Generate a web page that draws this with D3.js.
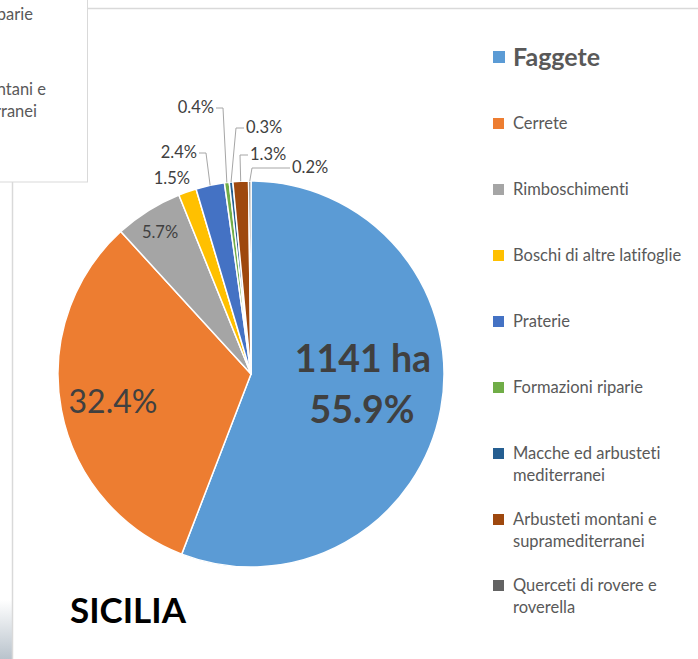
<!DOCTYPE html>
<html>
<head>
<meta charset="utf-8">
<script src="https://cdn.jsdelivr.net/npm/d3@7"></script>
<style>
  html, body { margin: 0; padding: 0; background: #fff; }
  svg { display: block; font-family: Lato, "Open Sans", sans-serif; font-variant-ligatures: none; }
</style>
</head>
<body>
<svg id="chart" width="698" height="659"></svg>
<script>
// categories, clockwise from 12 o'clock
const categories = [
  "Faggete",
  "Cerrete",
  "Rimboschimenti",
  "Boschi di altre latifoglie",
  "Praterie",
  "Formazioni riparie",
  "Macche ed arbusteti mediterranei",
  "Arbusteti montani e supramediterranei",
  "Querceti di rovere e roverella"
];
// share of surface, %
const percents = [55.9, 32.4, 5.7, 1.5, 2.4, 0.4, 0.3, 1.3, 0.2];
const faggeteHa = 1141;
const colors = ["#5B9BD5", "#ED7D31", "#A5A5A5", "#FFC000", "#4472C4",
                "#70AD47", "#255E91", "#9E480E", "#636363"];
// legend lines (wrapped the same way as the original)
const legendLines = [
  ["Faggete"], ["Cerrete"], ["Rimboschimenti"], ["Boschi di altre latifoglie"],
  ["Praterie"], ["Formazioni riparie"], ["Macche ed arbusteti", "mediterranei"],
  ["Arbusteti montani e", "supramediterranei"], ["Querceti di rovere e", "roverella"]
];
// leftovers of the neighbouring chart's legend, cut off at the left edge
const ghostLegend = ["Formazioni riparie", "Arbusteti montani e", "supramediterranei"];

const svg = d3.select("#chart");
const W = 698, H = 659;

// frame of this chart + the overlapping panel of the other one
const grad = svg.append("defs").append("linearGradient")
  .attr("id", "bgfade").attr("x1", 0).attr("y1", 0).attr("x2", 0).attr("y2", 1);
grad.append("stop").attr("offset", "0%").attr("stop-color", "#ffffff");
grad.append("stop").attr("offset", "100%").attr("stop-color", "#b9c3cc");
svg.append("rect").attr("x", 0).attr("y", 600).attr("width", 12).attr("height", 59)
  .attr("fill", "url(#bgfade)");
svg.append("line").attr("x1", 87).attr("x2", W).attr("y1", 8.5).attr("y2", 8.5)
  .attr("stroke", "#d9d9d9").attr("stroke-width", 1.5);
svg.append("line").attr("x1", 12.5).attr("x2", 12.5).attr("y1", 182).attr("y2", H)
  .attr("stroke", "#d9d9d9").attr("stroke-width", 1.5);
svg.append("rect").attr("x", -2).attr("y", -2).attr("width", 89.5).attr("height", 184)
  .attr("fill", "#fff").attr("stroke", "#d9d9d9").attr("stroke-width", 1);
svg.append("g").selectAll("text").data(ghostLegend).join("text")
  .attr("x", (d, i) => i === 0 ? 33 : (i === 1 ? 46 : 37))
  .attr("y", (d, i) => i === 0 ? 20 : (i === 1 ? 95 : 117))
  .attr("text-anchor", "end")
  .attr("font-size", 16.5).attr("fill", "#595959")
  .text(d => d);

// pie
const cx = 251, cy = 374, r = 193;
const g = svg.append("g").attr("transform", `translate(${cx},${cy})`);
const pie = d3.pie().sort(null).value(d => d);
const arcs = pie(percents);
const arc = d3.arc().innerRadius(0).outerRadius(r);
const edge = d3.arc().innerRadius(r).outerRadius(r);

g.selectAll("path").data(arcs).join("path")
  .attr("d", arc)
  .attr("fill", (d, i) => colors[i])
  .attr("stroke", "#fff")
  .attr("stroke-width", 1.5)
  .attr("stroke-linejoin", "round");

const fmt = v => v.toFixed(1) + "%";

// big labels inside the two main slices
g.append("text").attr("x", 112).attr("y", -2)
  .attr("text-anchor", "middle").attr("font-size", 37.5).attr("font-weight", "bold")
  .attr("fill", "#404040").text(faggeteHa + " ha");
g.append("text").attr("x", 111).attr("y", 49)
  .attr("text-anchor", "middle").attr("font-size", 37.5).attr("font-weight", "bold")
  .attr("fill", "#404040").text(fmt(percents[0]));
g.append("text").attr("x", -138).attr("y", 39)
  .attr("text-anchor", "middle").attr("font-size", 32)
  .attr("fill", "#404040").text(fmt(percents[1]));
g.append("text").attr("x", -91).attr("y", -136)
  .attr("text-anchor", "middle").attr("font-size", 16.5)
  .attr("fill", "#404040").text(fmt(percents[2]));

// outside labels of the thin slices: text offset from centre, side, horizontal stub
const outside = [
  { i: 3, dx: -61, dy: -190, anchor: "end", stub: null },
  { i: 4, dx: -54, dy: -216, anchor: "end", stub: 7 },
  { i: 5, dx: -37, dy: -261, anchor: "end", stub: 7 },
  { i: 6, dx: -5, dy: -241, anchor: "start", stub: 8 },
  { i: 7, dx: -1, dy: -214, anchor: "start", stub: 8 },
  { i: 8, dx: 41, dy: -201, anchor: "start", stub: 38 }
];
outside.forEach(o => {
  const a = arcs[o.i];
  const [ax, ay] = edge.centroid(a);
  g.append("text").attr("x", o.dx).attr("y", o.dy)
    .attr("text-anchor", o.anchor).attr("font-size", 16.5)
    .attr("fill", "#404040").text(fmt(percents[o.i]));
  if (o.stub !== null) {
    const sx = o.anchor === "end" ? o.dx + 2 : o.dx - 2;
    const ly = o.dy - 5;
    const ex = o.anchor === "end" ? sx + o.stub : sx - o.stub;
    g.append("polyline")
      .attr("points", [[sx, ly], [ex, ly], [ax, ay]].map(p => p.join(",")).join(" "))
      .attr("fill", "none").attr("stroke", "#a6a6a6").attr("stroke-width", 1);
  }
});

// legend
const legY = d3.scalePoint().domain(d3.range(categories.length)).range([57, 585]);
const leg = svg.append("g").selectAll("g").data(categories).join("g")
  .attr("transform", (d, i) => `translate(493,${legY(i)})`);
leg.append("rect")
  .attr("x", 0).attr("y", (d, i) => i === 0 ? -6 : -5)
  .attr("width", (d, i) => i === 0 ? 12 : 11)
  .attr("height", (d, i) => i === 0 ? 12 : 11)
  .attr("fill", (d, i) => colors[i]);
leg.each(function (d, i) {
  const t = d3.select(this).append("text")
    .attr("x", 20).attr("y", i === 0 ? 9 : 6)
    .attr("font-size", i === 0 ? 25 : 16.5)
    .attr("font-weight", i === 0 ? "bold" : "normal")
    .attr("fill", "#595959");
  legendLines[i].forEach((line, k) => {
    t.append("tspan").attr("x", 20).attr("dy", k === 0 ? 0 : 22).text(line);
  });
});

// region title
svg.append("text").attr("x", 70).attr("y", 623)
  .attr("font-size", 35).attr("font-weight", "bold")
  .attr("fill", "#000").text("SICILIA");
</script>
</body>
</html>
